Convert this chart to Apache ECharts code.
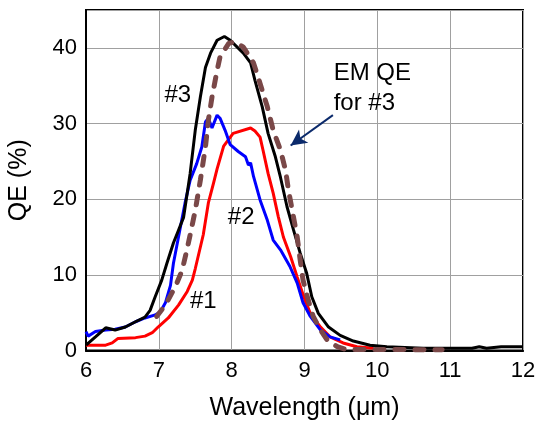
<!DOCTYPE html>
<html>
<head>
<meta charset="utf-8">
<script src="https://cdn.jsdelivr.net/npm/echarts@6/dist/echarts.min.js"></script>
<style>html,body{margin:0;padding:0;background:#fff}#c{width:541px;height:424px}</style>
</head>
<body>
<div id="c"></div>
<script>
// Device #3 (black)
const wl3 = [6.0,6.13,6.27,6.40,6.54,6.68,6.81,6.88,6.95,7.04,7.11,7.20,7.27,7.34,7.43,7.50,7.57,7.64,7.71,7.80,7.90,7.98,8.16,8.26,8.32,8.42,8.50,8.60,8.67,8.76,8.85,8.94,9.03,9.10,9.19,9.33,9.49,9.67,9.90,10.13,10.63,11.0,11.3,11.4,11.5,11.7,12.0];
const qe3 = [0.7,1.8,3.0,2.7,3.1,3.8,4.4,5.3,7.1,9.3,11.5,14.2,15.9,17.6,23.4,29.1,33.5,37.4,39.3,41.0,41.5,41.0,39.3,38.0,35.7,32.2,28.7,25.6,22.9,19.0,15.9,12.9,10.2,7.1,4.9,3.1,2.0,1.25,0.7,0.5,0.3,0.3,0.3,0.5,0.3,0.5,0.5];
// Device #2 (blue)
const wl2 = [6.0,6.03,6.13,6.27,6.40,6.54,6.68,6.81,6.95,7.02,7.09,7.16,7.20,7.27,7.36,7.43,7.52,7.59,7.64,7.68,7.73,7.80,7.84,7.91,7.98,8.09,8.19,8.23,8.26,8.30,8.39,8.49,8.57,8.67,8.80,8.90,8.98,9.08,9.22,9.35,9.49];
const qe2 = [2.5,1.9,2.5,2.7,2.8,3.1,3.8,4.3,4.7,5.1,6.3,8.6,11.5,15.0,19.5,22.5,24.7,26.9,30.2,30.7,29.4,31.1,30.7,29.1,27.2,26.3,25.6,24.5,24.8,23.0,19.9,17.2,14.6,13.3,11.1,8.9,6.3,4.5,2.7,1.8,1.4];
// Device #1 (red)
const wl1 = [6.0,6.27,6.36,6.44,6.68,6.81,6.91,6.99,7.13,7.27,7.39,7.46,7.50,7.61,7.68,7.75,7.80,7.89,8.02,8.26,8.32,8.39,8.43,8.50,8.57,8.64,8.71,8.81,8.90,8.99,9.08,9.22,9.35,9.53,9.72,9.95];
const qe1 = [0.7,0.7,1.0,1.6,1.7,1.9,2.35,3.1,4.3,6.0,7.8,9.3,10.8,15.3,19.5,22.1,24.0,27.0,28.7,29.4,29.0,28.2,26.5,23.4,20.8,17.7,15.0,12.4,9.7,7.1,4.9,3.1,1.8,1.0,0.5,0.3];
// EM QE for #3 (dashed)
const wlEM = [6.97,7.09,7.23,7.32,7.39,7.43,7.50,7.57,7.64,7.68,7.73,7.80,7.84,7.96,8.05,8.16,8.30,8.39,8.49,8.57,8.67,8.74,8.78,8.83,8.90,8.94,8.98,9.05,9.12,9.22,9.31,9.45,9.56,10.89];
const qeEM = [4.5,6.0,8.5,10.6,13.5,15.3,18.5,22.5,26.9,30.4,33.5,37.0,38.8,40.6,40.8,40.1,38.0,35.3,32.2,29.1,26.5,23.8,21.2,18.6,15.0,12.0,9.3,6.7,4.5,2.7,1.4,0.5,0.15,0.1];

const xTicks = [6,7,8,9,10,11,12];
const yTicks = [0,10,20,30,40];
const curveLabels = [
  {text:'#3', x:7.26, y:33.7},
  {text:'#2', x:8.13, y:17.6},
  {text:'#1', x:7.61, y:6.5}
];
const emLabel = {lines:['EM QE','for #3'], x:9.40, y:[36.6,32.6]};
const arrowFrom = [9.39, 31.1];
const arrowTo = [8.81, 27.1];

const zip = (a,b) => a.map((v,i)=>[v,b[i]]);
const FONT = 'Liberation Sans';

const chart = echarts.init(document.getElementById('c'), null, {renderer:'canvas'});
chart.setOption({
  animation:false,
  backgroundColor:'#fff',
  textStyle:{fontFamily:FONT},
  grid:{left:86, right:18, top:10, bottom:73.5, containLabel:false, outerBoundsMode:'none',
    show:true, borderColor:'#000', borderWidth:2, backgroundColor:'transparent'},
  xAxis:{
    type:'value', min:xTicks[0], max:xTicks[xTicks.length-1], interval:1,
    axisLine:{show:true, lineStyle:{color:'#000', width:2}},
    axisTick:{show:false},
    axisLabel:{color:'#000', fontSize:22, fontFamily:FONT, margin:9},
    splitLine:{show:true, lineStyle:{color:'#a0a0a0', width:1}},
    name:'Wavelength (\u03bcm)', nameLocation:'middle', nameGap:45,
    nameTextStyle:{color:'#000', fontSize:25, fontFamily:FONT}
  },
  yAxis:{
    type:'value', min:0, max:45, interval:10,
    axisLine:{show:true, lineStyle:{color:'#000', width:2}},
    axisTick:{show:false},
    axisLabel:{color:'#000', fontSize:22, fontFamily:FONT, margin:9, showMaxLabel:false,
      formatter: v => yTicks.includes(v) ? String(v) : ''},
    splitLine:{show:true, lineStyle:{color:'#a0a0a0', width:1}},
    name:'QE (%)', nameLocation:'middle', nameGap:54, nameRotate:90,
    nameTextStyle:{color:'#000', fontSize:25, fontFamily:FONT}
  },
  series:[
    {name:'#1', type:'line', data:zip(wl1,qe1), symbol:'none', lineStyle:{color:'#ff0000', width:3}, z:2},
    {name:'#2', type:'line', data:zip(wl2,qe2), symbol:'none', lineStyle:{color:'#0000ff', width:3}, z:3},
    {name:'#3', type:'line', data:zip(wl3,qe3), symbol:'none', lineStyle:{color:'#000000', width:3}, z:4,
      markLine:{silent:true, symbol:['none','arrow'], symbolSize:[12,16],
        lineStyle:{color:'#0b2a6b', width:2, type:'solid'}, label:{show:false},
        data:[[{coord:arrowFrom},{coord:arrowTo}]]}},
    {name:'EM QE', type:'line', data:zip(wlEM,qeEM), symbol:'none', lineStyle:{color:'#7a4848', width:5, type:[9,11], cap:'round'}, z:5}
  ]
});

const gtexts = [];
curveLabels.forEach(l=>{
  const p = chart.convertToPixel({gridIndex:0},[l.x,l.y]);
  gtexts.push({type:'text', x:p[0], y:p[1], z:10, style:{text:l.text, fill:'#000', font:'24px "'+FONT+'"', align:'center', verticalAlign:'middle'}});
});
emLabel.lines.forEach((t,i)=>{
  const p = chart.convertToPixel({gridIndex:0},[emLabel.x,emLabel.y[i]]);
  gtexts.push({type:'text', x:p[0], y:p[1], z:10, style:{text:t, fill:'#000', font:'24px "'+FONT+'"', align:'left', verticalAlign:'middle'}});
});
chart.setOption({graphic:gtexts});
</script>
</body>
</html>
